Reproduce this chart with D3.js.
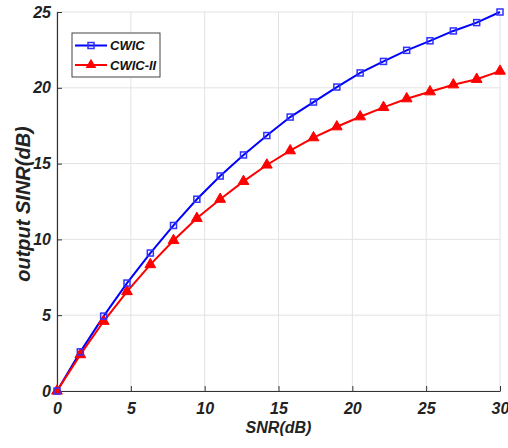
<!DOCTYPE html>
<html>
<head>
<meta charset="utf-8">
<script src="https://cdn.jsdelivr.net/npm/d3@7"></script>
<style>
  body { margin: 0; background: #fff; }
  svg text { font-family: "Liberation Sans", Arial, sans-serif; font-weight: bold; font-style: italic; }
</style>
</head>
<body>
<svg id="chart"></svg>
<script>
// SNR values (dB), 20 points from 0 to 30
const snr = [0, 1.58, 3.16, 4.74, 6.32, 7.89, 9.47, 11.05, 12.63, 14.21,
             15.79, 17.37, 18.95, 20.53, 22.11, 23.68, 25.26, 26.84, 28.42, 30];
const cwic = [0, 2.58, 4.94, 7.12, 9.1, 10.92, 12.65, 14.18, 15.57, 16.85,
              18.07, 19.06, 20.05, 20.98, 21.74, 22.47, 23.1, 23.75, 24.3, 25.0];
const cwic2 = [0, 2.4, 4.6, 6.56, 8.34, 9.93, 11.39, 12.65, 13.83, 14.91,
               15.85, 16.71, 17.43, 18.09, 18.71, 19.28, 19.74, 20.2, 20.56, 21.1];
const xTicks = [0, 5, 10, 15, 20, 25, 30];
const yTicks = [0, 5, 10, 15, 20, 25];
const seriesNames = ["CWIC", "CWIC-II"];

const width = 508;
const height = 448;
const margin = {top: 12, right: 8, bottom: 57, left: 57};

const svg = d3.select("#chart")
    .attr("width", width)
    .attr("height", height);

const x = d3.scaleLinear().domain([0, 30]).range([margin.left, width - margin.right]);
const y = d3.scaleLinear().domain([0, 25]).range([height - margin.bottom, margin.top]);

// grid
svg.append("g")
    .selectAll("line.vg")
    .data(xTicks)
    .enter()
    .append("line")
    .attr("x1", d => x(d)).attr("x2", d => x(d))
    .attr("y1", y(0)).attr("y2", y(25))
    .attr("stroke", "#e3e3e3")
    .attr("stroke-width", 1);

svg.append("g")
    .selectAll("line.hg")
    .data(yTicks)
    .enter()
    .append("line")
    .attr("x1", x(0)).attr("x2", x(30))
    .attr("y1", d => y(d)).attr("y2", d => y(d))
    .attr("stroke", "#e3e3e3")
    .attr("stroke-width", 1);

// axes
const xAxis = svg.append("g")
    .attr("transform", `translate(0, ${y(0)})`)
    .call(d3.axisBottom(x).tickValues(xTicks).tickSizeInner(-5).tickSizeOuter(0).tickPadding(12));
const yAxis = svg.append("g")
    .attr("transform", `translate(${x(0)}, 0)`)
    .call(d3.axisLeft(y).tickValues(yTicks).tickSizeInner(-5).tickSizeOuter(0).tickPadding(6));

[xAxis, yAxis].forEach(a => {
    a.select(".domain").attr("stroke", "#333").attr("stroke-width", 1.2);
    a.selectAll(".tick line").attr("stroke", "#333");
    a.selectAll(".tick text")
        .style("font-size", "16px")
        .attr("fill", "#222");
});

// axis labels
svg.append("text")
    .attr("x", (x(0) + x(30)) / 2)
    .attr("y", 433)
    .attr("text-anchor", "middle")
    .style("font-size", "16px")
    .attr("fill", "#222")
    .text("SNR(dB)");

svg.append("text")
    .attr("transform", "translate(30, 204) rotate(-90)")
    .attr("text-anchor", "middle")
    .style("font-size", "20px")
    .attr("fill", "#222")
    .text("output SINR(dB)");

// lines
const line = d3.line()
    .x((d, i) => x(snr[i]))
    .y(d => y(d));

svg.append("path")
    .datum(cwic)
    .attr("d", line)
    .attr("fill", "none")
    .attr("stroke", "#0000ff")
    .attr("stroke-width", 2);

svg.append("path")
    .datum(cwic2)
    .attr("d", line)
    .attr("fill", "none")
    .attr("stroke", "#ff0000")
    .attr("stroke-width", 2);

// markers
const tri = d3.symbol().type(d3.symbolTriangle).size(50);

svg.append("g")
    .selectAll("path")
    .data(cwic2)
    .enter()
    .append("path")
    .attr("d", tri)
    .attr("transform", (d, i) => `translate(${x(snr[i])}, ${y(d)})`)
    .attr("fill", "#ff0000")
    .attr("stroke", "#ff0000")
    .attr("stroke-width", 1);

svg.append("g")
    .selectAll("rect")
    .data(cwic)
    .enter()
    .append("rect")
    .attr("x", (d, i) => x(snr[i]) - 3)
    .attr("y", d => y(d) - 3)
    .attr("width", 6)
    .attr("height", 6)
    .attr("fill", "none")
    .attr("stroke", "#3030ff")
    .attr("stroke-width", 1.5);

// legend
const legend = svg.append("g").attr("transform", "translate(72, 33)");
legend.append("rect")
    .attr("width", 88)
    .attr("height", 44)
    .attr("fill", "#fff")
    .attr("stroke", "#444")
    .attr("stroke-width", 1);

const colors = ["#0000ff", "#ff0000"];
seriesNames.forEach((name, i) => {
    const row = legend.append("g").attr("transform", `translate(0, ${12.5 + i * 19.5})`);
    row.append("line")
        .attr("x1", 3).attr("x2", 35)
        .attr("stroke", colors[i])
        .attr("stroke-width", 2);
    if (i === 0) {
        row.append("rect")
            .attr("x", 16).attr("y", -3)
            .attr("width", 6).attr("height", 6)
            .attr("fill", "none")
            .attr("stroke", "#3030ff")
            .attr("stroke-width", 1.5);
    } else {
        row.append("path")
            .attr("d", tri)
            .attr("transform", "translate(19, 0)")
            .attr("fill", "#ff0000");
    }
    row.append("text")
        .attr("x", 38)
        .attr("dy", "0.35em")
        .style("font-size", "13px")
        .attr("fill", "#111")
        .text(name);
});
</script>
</body>
</html>
